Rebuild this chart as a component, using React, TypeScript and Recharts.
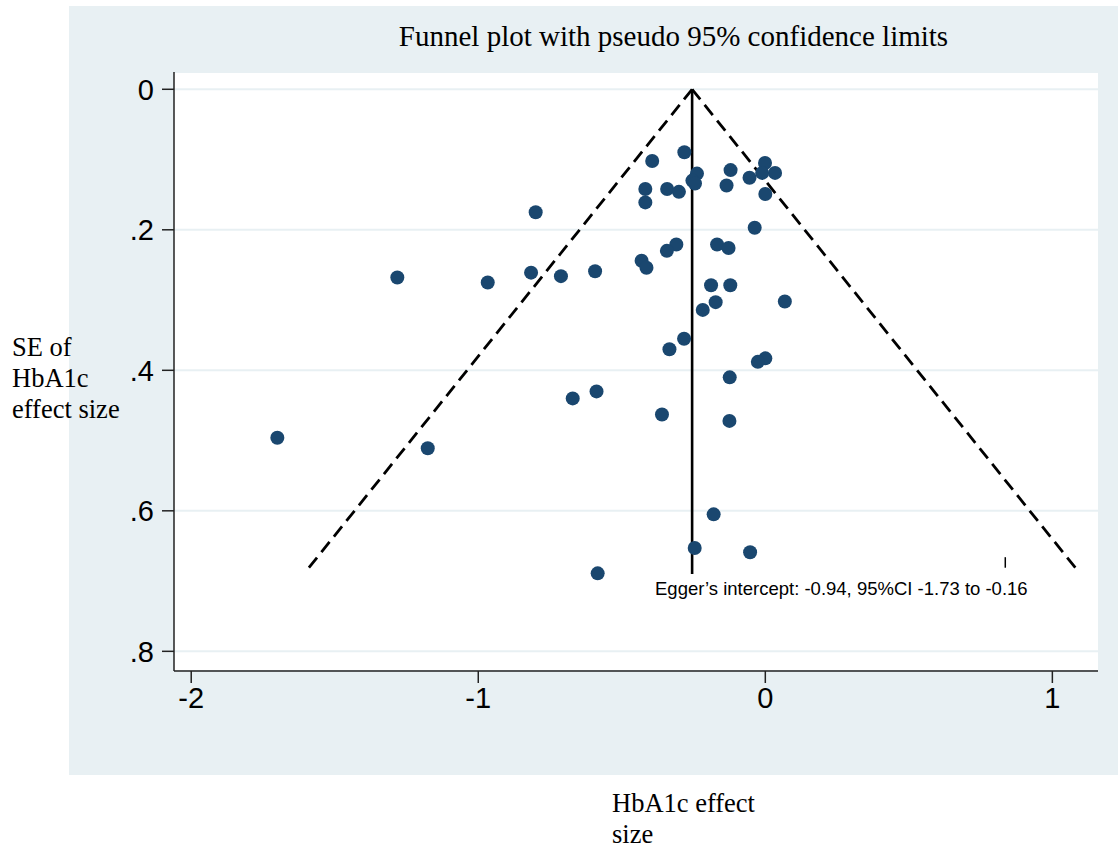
import { CartesianGrid, Scatter, ScatterChart, XAxis, YAxis } from 'recharts';

// study estimates
const effectSizes = [
  -0.282, -0.394, -0.001, -0.121, -0.238, 0.034, -0.011, -0.254, -0.245, -0.055,
  -0.418, -0.342, -0.301, -0.135, 0.0, -0.418, -0.8, -0.037, -0.168, -0.128,
  -0.31, -0.343, -0.431, -0.414, -1.282, -0.967, -0.816, -0.712, -0.593, -0.189,
  -0.122, -0.173, 0.068, -0.218, -0.283, -0.334, 0.0, -0.026, -0.124, -0.588,
  -0.671, -0.36, -0.125, -1.7, -1.176, -0.18, -0.246, -0.053, -0.584,
];
const standardErrors = [
  0.0896, 0.102, 0.105, 0.115, 0.12, 0.119, 0.119, 0.13, 0.134, 0.126,
  0.142, 0.142, 0.146, 0.137, 0.149, 0.161, 0.175, 0.197, 0.221, 0.226,
  0.221, 0.23, 0.244, 0.254, 0.268, 0.275, 0.261, 0.266, 0.259, 0.279,
  0.279, 0.303, 0.302, 0.314, 0.355, 0.37, 0.383, 0.388, 0.41, 0.43,
  0.44, 0.463, 0.472, 0.496, 0.511, 0.605, 0.653, 0.659, 0.689,
];

// pseudo 95% limits and pooled estimate
const funnelSe = [0, 0.681];
const funnelLower = [-0.255, -1.59];
const funnelUpper = [-0.255, 1.08];
const pooledX = [-0.255, -0.255];
const pooledSe = [0, 0.69];
const markX = [0.836, 0.836];
const markSe = [0.666, 0.681];

const xTicks = [-2, -1, 0, 1];
const yTicks = [0, 0.2, 0.4, 0.6, 0.8];

const BG = '#e8f0f3';
const NAVY = '#1a476f';
const SANS = '"Liberation Sans", Arial, Helvetica, sans-serif';
const SERIF = '"Liberation Serif", "Times New Roman", serif';

const pairs = (xs: number[], ys: number[]) => xs.map((x, i) => ({ x, y: ys[i] }));

const studies = pairs(effectSizes, standardErrors);
const leftLimit = pairs(funnelLower, funnelSe);
const rightLimit = pairs(funnelUpper, funnelSe);
const pooledLine = pairs(pooledX, pooledSe);
const textMark = pairs(markX, markSe);

const noDot = () => <g />;

function formatSe(v: number): string {
  if (v === 0) return '0';
  return String(Number(v.toFixed(1))).replace(/^0/, '');
}

export default function App() {
  return (
    <div style={{ position: 'absolute', left: 0, top: 0, width: 1118, height: 852, background: '#fff' }}>
      <div style={{ position: 'absolute', left: 69, top: 6, width: 1049, height: 769, background: BG }} />
      <div
        style={{
          position: 'absolute',
          left: 0,
          top: 20,
          width: 1347,
          textAlign: 'center',
          fontFamily: SERIF,
          fontSize: 29,
          color: '#000',
          whiteSpace: 'nowrap',
        }}
      >
        Funnel plot with pseudo 95% confidence limits
      </div>
      <div style={{ position: 'absolute', left: 0, top: 0 }}>
        <ScatterChart width={1118} height={852} margin={{ top: 72, right: 20, bottom: 121, left: 74 }}>
          <CartesianGrid
            vertical={false}
            stroke={BG}
            strokeWidth={2}
            fill="#fff"
            fillOpacity={1}
          />
          <XAxis
            type="number"
            dataKey="x"
            domain={[-2.06, 1.159]}
            ticks={xTicks}
            allowDataOverflow
            height={60}
            tickSize={12}
            tickMargin={4}
            axisLine={{ stroke: '#222', strokeWidth: 1.5 }}
            tickLine={{ stroke: '#222', strokeWidth: 1.5 }}
            tick={{ fill: '#000', fontSize: 29, fontFamily: SANS }}
          />
          <YAxis
            type="number"
            dataKey="y"
            reversed
            domain={[-0.0246, 0.828]}
            ticks={yTicks}
            allowDataOverflow
            width={100}
            tickSize={12}
            tickMargin={8}
            tickFormatter={formatSe}
            axisLine={{ stroke: '#222', strokeWidth: 1.5 }}
            tickLine={{ stroke: '#222', strokeWidth: 1.5 }}
            tick={{ fill: '#000', fontSize: 29, fontFamily: SANS }}
          />
          <Scatter
            data={leftLimit}
            line={{ stroke: '#000', strokeWidth: 2.8, strokeDasharray: '13 7' }}
            shape={noDot}
            isAnimationActive={false}
          />
          <Scatter
            data={rightLimit}
            line={{ stroke: '#000', strokeWidth: 2.8, strokeDasharray: '13 7' }}
            shape={noDot}
            isAnimationActive={false}
          />
          <Scatter
            data={pooledLine}
            line={{ stroke: '#000', strokeWidth: 2.6 }}
            shape={noDot}
            isAnimationActive={false}
          />
          <Scatter
            data={textMark}
            line={{ stroke: '#000', strokeWidth: 1.5 }}
            shape={noDot}
            isAnimationActive={false}
          />
          <Scatter data={studies} fill={NAVY} isAnimationActive={false}
            shape={(p: any) => <circle cx={p.cx} cy={p.cy} r={7} fill={NAVY} />}
          />
        </ScatterChart>
      </div>
      <div
        style={{
          position: 'absolute',
          left: 655,
          top: 578,
          fontFamily: SANS,
          fontSize: 18.5,
          color: '#000',
          whiteSpace: 'nowrap',
        }}
      >
        Egger’s intercept: -0.94, 95%CI -1.73 to -0.16
      </div>
      <div
        style={{
          position: 'absolute',
          left: 12,
          top: 332,
          fontFamily: SERIF,
          fontSize: 26.5,
          lineHeight: '31px',
          color: '#000',
        }}
      >
        SE of
        <br />
        HbA1c
        <br />
        effect size
      </div>
      <div
        style={{
          position: 'absolute',
          left: 612,
          top: 788,
          fontFamily: SERIF,
          fontSize: 26.5,
          lineHeight: '31px',
          color: '#000',
        }}
      >
        HbA1c effect
        <br />
        size
      </div>
    </div>
  );
}
